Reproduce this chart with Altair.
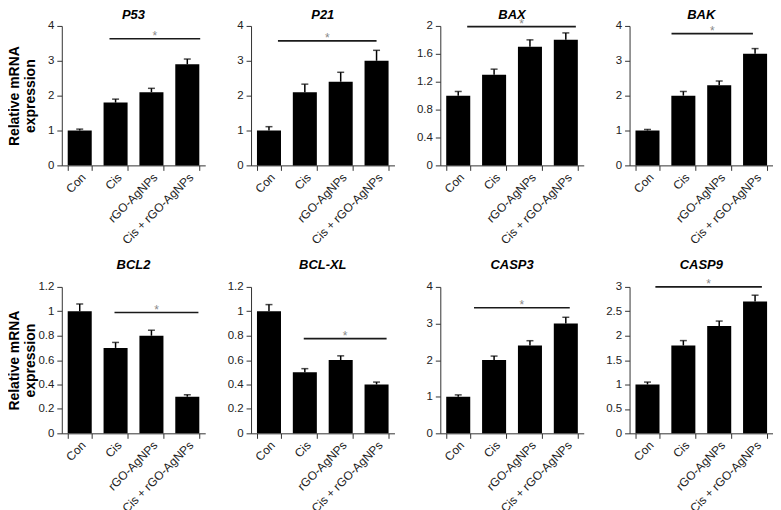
import altair as alt
import pandas as pd

# ---------------- data ----------------
genes = ["P53", "P21", "BAX", "BAK", "BCL2", "BCL-XL", "CASP3", "CASP9"]
groups = ["Con", "Cis", "rGO-AgNPs", "Cis + rGO-AgNPs"]

p53_mean = [1.0, 1.8, 2.1, 2.9]
p21_mean = [1.0, 2.1, 2.4, 3.0]
bax_mean = [1.0, 1.3, 1.7, 1.8]
bak_mean = [1.0, 2.0, 2.3, 3.2]
bcl2_mean = [1.0, 0.7, 0.8, 0.3]
bclxl_mean = [1.0, 0.5, 0.6, 0.4]
casp3_mean = [1.0, 2.0, 2.4, 3.0]
casp9_mean = [1.0, 1.8, 2.2, 2.7]

p53_err = [0.04, 0.10, 0.11, 0.15]
p21_err = [0.11, 0.23, 0.27, 0.30]
bax_err = [0.06, 0.08, 0.10, 0.10]
bak_err = [0.03, 0.12, 0.12, 0.15]
bcl2_err = [0.06, 0.045, 0.045, 0.016]
bclxl_err = [0.055, 0.03, 0.035, 0.02]
casp3_err = [0.05, 0.11, 0.13, 0.17]
casp9_err = [0.05, 0.10, 0.10, 0.13]

mean_values = [p53_mean, p21_mean, bax_mean, bak_mean,
               bcl2_mean, bclxl_mean, casp3_mean, casp9_mean]
error_values = [p53_err, p21_err, bax_err, bak_err,
                bcl2_err, bclxl_err, casp3_err, casp9_err]

axis_max = [4, 4, 2, 4, 1.2, 1.2, 4, 3]
axis_step = [1, 1, 0.4, 1, 0.2, 0.2, 1, 0.5]

# significance bars (span in group-index units, height in data units)
sig_from = [0.83, 0.25, 0.25, 0.67, 0.97, 0.97, 0.44, 0.22]
sig_to = [3.36, 3.00, 3.28, 2.94, 3.31, 3.28, 3.11, 3.19]
sig_level = [3.63, 3.57, 1.99, 3.78, 0.99, 0.776, 3.43, 3.0]
sig_label = "*"

y_title = ["Relative mRNA", "expression"]

# ---------------- chart ----------------
FONT = "Liberation Sans"
W = 144
ROW_H = [140, 147]
TITLE_Y = [-7, -18]


def panel(i):
    row, col = divmod(i, 4)
    H = ROW_H[row]
    df = pd.DataFrame({"group": groups, "mean": mean_values[i], "err": error_values[i]})
    df["top"] = df["mean"] + df["err"]
    n = int(round(axis_max[i] / axis_step[i]))
    ticks = [round(k * axis_step[i], 3) for k in range(n + 1)]

    yscale = alt.Scale(domain=[0, axis_max[i]], nice=False, zero=True)
    xscale = alt.Scale(domain=groups, paddingInner=0.33, paddingOuter=0.165)
    if col == 0:
        yaxis = alt.Axis(values=ticks, format="~g", title=y_title, minExtent=15,
                         maxExtent=15, titlePadding=9, titleLineHeight=16)
    else:
        yaxis = alt.Axis(values=ticks, format="~g", title=None, minExtent=28, maxExtent=28)
    xaxis = alt.Axis(title=None, labelAngle=-45, tickBand="extent", labelOverlap=False,
                     labelFontSize=12, labelPadding=1)

    X = alt.X("group:N", sort=groups, scale=xscale, axis=xaxis)
    base = alt.Chart(df)
    bars = base.mark_bar(color="black").encode(
        x=X, y=alt.Y("mean:Q", scale=yscale, axis=yaxis))
    err = base.mark_rule(color="black", strokeWidth=1.5).encode(
        x=X, y=alt.Y("mean:Q", scale=yscale, axis=yaxis), y2="top:Q")
    cap = base.mark_tick(color="black", thickness=1.5, size=7).encode(
        x=X, y=alt.Y("top:Q", scale=yscale, axis=yaxis))

    sdf = pd.DataFrame({"x1": [sig_from[i]], "x2": [sig_to[i]],
                        "mean": [sig_level[i]],
                        "xm": [(sig_from[i] + sig_to[i]) / 2],
                        "label": [sig_label]})
    qx = alt.Scale(domain=[-0.5, 3.5], nice=False, zero=False)
    line = alt.Chart(sdf).mark_rule(color="#1a1a1a", strokeWidth=1.6).encode(
        x=alt.X("x1:Q", scale=qx, axis=None), x2="x2:Q",
        y=alt.Y("mean:Q", scale=yscale, axis=yaxis))
    star = alt.Chart(sdf).mark_text(color="#888888", fontSize=12, dy=1,
                                    baseline="alphabetic", font=FONT).encode(
        x=alt.X("xm:Q", scale=qx, axis=None),
        y=alt.Y("mean:Q", scale=yscale, axis=yaxis),
        text="label:N")

    tdf = pd.DataFrame({"gene": [genes[i]]})
    title = alt.Chart(tdf).mark_text(fontSize=13, fontWeight="bold", fontStyle="italic",
                                     font=FONT, color="black",
                                     baseline="alphabetic").encode(
        x=alt.value(W / 2), y=alt.value(TITLE_Y[row]), text="gene:N")

    return alt.layer(
        alt.layer(bars, err, cap),
        alt.layer(line, star),
        title,
    ).resolve_scale(x="independent").properties(width=W, height=H)


chart = alt.concat(
    *[panel(i) for i in range(8)],
    columns=4,
    spacing={"row": 13, "column": 18},
    align="each",
).configure_axis(
    labelFont=FONT, labelFontSize=11.5, labelColor="#222222",
    domainColor="#333333", tickColor="#333333", tickSize=5, labelPadding=3,
    titleFont=FONT, titleFontSize=14, titleFontWeight="bold", titleColor="black",
    grid=False,
).configure_view(stroke=None).properties(
    padding={"left": 0, "top": 0, "right": 0, "bottom": 0},
    background="white",
)

chart.save("out.html", embed_options={"renderer": "svg", "actions": False})
